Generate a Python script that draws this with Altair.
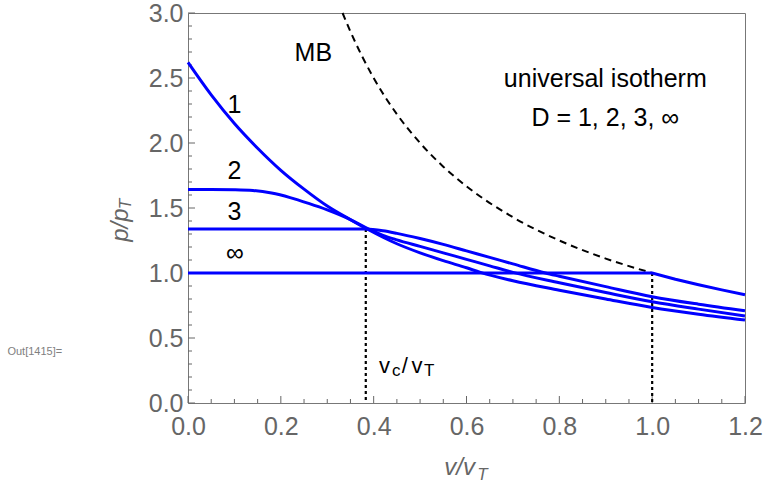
import altair as alt
import pandas as pd

# ---- isotherm samples: v/v_T against p/p_T ----
d1_v = [0, 0.05, 0.1, 0.15, 0.2, 0.25, 0.3, 0.35, 0.385, 0.42, 0.45, 0.5, 0.55, 0.6, 0.63, 0.7, 0.8, 0.9, 1.0, 1.1, 1.2]
d1_p = [2.62, 2.37, 2.15, 1.96, 1.79, 1.645, 1.515, 1.41, 1.34, 1.275, 1.225, 1.155, 1.095, 1.04, 1.005, 0.94, 0.868, 0.80, 0.735, 0.683, 0.638]

d2_v = [0, 0.05, 0.1, 0.14, 0.18, 0.22, 0.26, 0.3, 0.35, 0.385, 0.42, 0.45, 0.5, 0.55, 0.6, 0.65, 0.7, 0.8, 0.9, 1.0, 1.1, 1.2]
d2_p = [1.643, 1.643, 1.641, 1.635, 1.615, 1.58, 1.535, 1.485, 1.41, 1.345, 1.29, 1.255, 1.205, 1.155, 1.105, 1.055, 1.005, 0.925, 0.85, 0.779, 0.722, 0.669]

d3_v = [0, 0.383, 0.42, 0.45, 0.5, 0.55, 0.6, 0.65, 0.7, 0.77, 0.8, 0.9, 1.0, 1.1, 1.2]
d3_p = [1.338, 1.338, 1.325, 1.305, 1.265, 1.22, 1.17, 1.12, 1.07, 1.0, 0.975, 0.895, 0.818, 0.76, 0.71]

dinf_v = [0, 1.0, 1.05, 1.1, 1.15, 1.2]
dinf_p = [1.0, 1.0, 0.952, 0.909, 0.870, 0.833]

# Maxwell-Boltzmann reference curve
mb_v = [0.333, 0.35, 0.4, 0.45, 0.5, 0.55, 0.6, 0.7, 0.8, 0.9, 1.0]
mb_p = [3.0, 2.857, 2.5, 2.222, 2.0, 1.818, 1.667, 1.429, 1.25, 1.111, 1.0]

# critical volumes marked with dotted drop lines
drop_v = [0.383, 1.0]
drop_p = [1.338, 1.0]

# axis ticks
x_major = [0.0, 0.2, 0.4, 0.6, 0.8, 1.0, 1.2]
x_minor = [0.05, 0.1, 0.15, 0.25, 0.3, 0.35, 0.45, 0.5, 0.55, 0.65, 0.7, 0.75,
           0.85, 0.9, 0.95, 1.05, 1.1, 1.15]
y_major = [0.0, 0.5, 1.0, 1.5, 2.0, 2.5, 3.0]
y_minor = [0.1, 0.2, 0.3, 0.4, 0.6, 0.7, 0.8, 0.9, 1.1, 1.2, 1.3, 1.4, 1.6, 1.7, 1.8, 1.9,
           2.1, 2.2, 2.3, 2.4, 2.6, 2.7, 2.8, 2.9]

# annotation texts (data coordinates, alphabetic baseline)
note_text = ["MB", "1", "2", "3", "\u221e", "universal isotherm", "D = 1, 2, 3, \u221e"]
note_v = [0.270, 0.100, 0.100, 0.100, 0.101, 0.899, 0.899]
note_p = [2.630, 2.233, 1.720, 1.408, 1.095, 2.433, 2.131]

W, H = 557, 390
FONT = "Liberation Sans"
GRAY = "#666666"
BLUE = "#0000ff"

X = alt.X("v:Q", scale=alt.Scale(domain=[0, 1.2], nice=False, zero=False),
          axis=alt.Axis(values=x_major, format=".1f", ticks=False, grid=False, domain=False,
                        labelFont=FONT, labelFontSize=25, labelColor=GRAY, labelPadding=11,
                        labelFlush=False, title=None))
Y = alt.Y("p:Q", scale=alt.Scale(domain=[0, 3], nice=False, zero=False),
          axis=alt.Axis(values=y_major, format=".1f", ticks=False, grid=False, domain=False,
                        labelFont=FONT, labelFontSize=25, labelColor=GRAY, labelPadding=5,
                        labelFlush=False, title=None))


def frame(vs, ps, **extra):
    d = pd.DataFrame({"v": vs, "p": ps})
    for k, val in extra.items():
        d[k] = val
    return d


curves = pd.concat([frame(d1_v, d1_p, D="1"), frame(d2_v, d2_p, D="2"), frame(d3_v, d3_p, D="3")])

smooth = alt.Chart(curves).mark_line(color=BLUE, strokeWidth=3, interpolate="monotone").encode(
    x=X, y=Y, detail="D:N", order="v:Q")
classical = alt.Chart(frame(dinf_v, dinf_p)).mark_line(color=BLUE, strokeWidth=3).encode(x=X, y=Y)
mb = alt.Chart(frame(mb_v, mb_p)).mark_line(color="black", strokeWidth=2, strokeDash=[7, 5],
                                             interpolate="monotone").encode(x=X, y=Y)

drops = alt.Chart(pd.DataFrame({"v": drop_v, "p": drop_p, "p0": [0.0, 0.0]})).mark_rule(
    color="black", strokeWidth=2.2, strokeDash=[3, 3]).encode(x=X, y=Y, y2="p0:Q")

# inward frame ticks on the bottom and left edges
xt_major = alt.Chart(pd.DataFrame({"v": x_major})).mark_rule(color=GRAY, strokeWidth=1).encode(
    x=X, y=alt.value(H), y2=alt.value(H - 7))
xt_minor = alt.Chart(pd.DataFrame({"v": x_minor})).mark_rule(color=GRAY, strokeWidth=1).encode(
    x=X, y=alt.value(H), y2=alt.value(H - 4))
yt_major = alt.Chart(pd.DataFrame({"p": y_major})).mark_rule(color=GRAY, strokeWidth=1).encode(
    y=Y, x=alt.value(0), x2=alt.value(7))
yt_minor = alt.Chart(pd.DataFrame({"p": y_minor})).mark_rule(color=GRAY, strokeWidth=1).encode(
    y=Y, x=alt.value(0), x2=alt.value(4))

notes = alt.Chart(pd.DataFrame({"v": note_v, "p": note_p, "t": note_text})).mark_text(
    font=FONT, fontSize=25, color="black", align="center", baseline="alphabetic").encode(
    x=X, y=Y, text="t:N")

# v_c / v_T marker label
vc_big = alt.Chart(pd.DataFrame({"v": [0.4116, 0.4605, 0.4817], "p": [0.228] * 3,
                                 "t": ["v", "/", "v"]})).mark_text(
    font=FONT, fontSize=22, color="black", align="left", baseline="alphabetic").encode(
    x=X, y=Y, text="t:N")
vc_sub = alt.Chart(pd.DataFrame({"v": [0.4397, 0.5086], "p": [0.205] * 2,
                                 "t": ["c", "T"]})).mark_text(
    font=FONT, fontSize=17, color="black", align="left", baseline="alphabetic").encode(
    x=X, y=Y, text="t:N")

# axis titles, italic with subscript T
xtitle_big = alt.Chart(pd.DataFrame({"v": [0.552], "p": [-0.555], "t": ["v/v"]})).mark_text(
    font=FONT, fontSize=24, fontStyle="italic", color=GRAY, align="left", baseline="alphabetic").encode(
    x=X, y=Y, text="t:N")
xtitle_sub = alt.Chart(pd.DataFrame({"v": [0.623], "p": [-0.59], "t": ["T"]})).mark_text(
    font=FONT, fontSize=17, fontStyle="italic", color=GRAY, align="left", baseline="alphabetic").encode(
    x=X, y=Y, text="t:N")
ytitle_big = alt.Chart(pd.DataFrame({"v": [-0.129], "p": [1.24], "t": ["p/p"]})).mark_text(
    font=FONT, fontSize=24, fontStyle="italic", color=GRAY, align="left", baseline="alphabetic",
    angle=270).encode(x=X, y=Y, text="t:N")
ytitle_sub = alt.Chart(pd.DataFrame({"v": [-0.122], "p": [1.49], "t": ["T"]})).mark_text(
    font=FONT, fontSize=17, fontStyle="italic", color=GRAY, align="left", baseline="alphabetic",
    angle=270).encode(x=X, y=Y, text="t:N")

out_label = alt.Chart(pd.DataFrame({"v": [-0.33], "p": [0.39], "t": ["Out[1415]="]})).mark_text(
    font=FONT, fontSize=11, color="#808080", align="center", baseline="middle").encode(
    x=X, y=Y, text="t:N")

chart = alt.layer(
    xt_major, xt_minor, yt_major, yt_minor,
    drops, mb, classical, smooth,
    notes, vc_big, vc_sub, xtitle_big, xtitle_sub, ytitle_big, ytitle_sub, out_label,
).properties(
    width=W, height=H,
    padding={"left": 188, "top": 13, "right": 19, "bottom": 82},
    autosize=alt.AutoSizeParams(type="none"),
).configure_view(stroke="#777777", strokeWidth=1)

chart.save("out.html", embed_options={"renderer": "svg", "actions": False})
